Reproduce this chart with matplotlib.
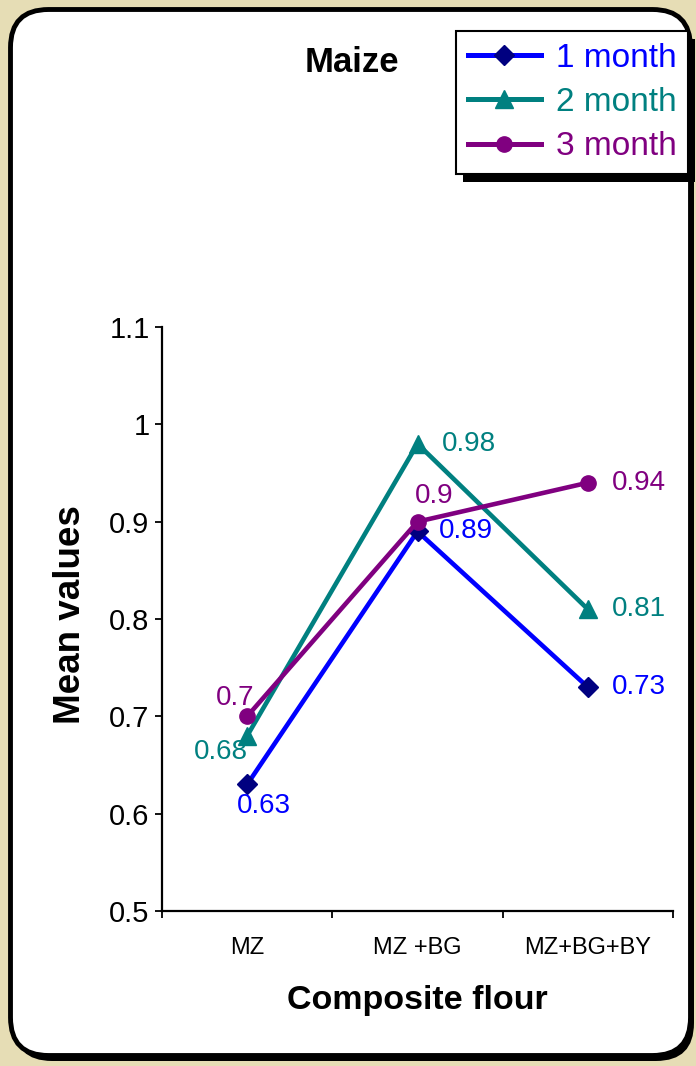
import numpy as np
import matplotlib
matplotlib.use("Agg")
import matplotlib.pyplot as plt
from matplotlib.patches import FancyBboxPatch, Rectangle
from matplotlib.transforms import IdentityTransform

plt.rcParams['font.family'] = ['Liberation Sans', 'DejaVu Sans']

# mean values per composite flour and storage time
flours = ['MZ', 'MZ +BG', 'MZ+BG+BY']
month1 = [0.63, 0.89, 0.73]
month2 = [0.68, 0.98, 0.81]
month3 = [0.70, 0.90, 0.94]
series_names = ['1 month', '2 month', '3 month']

W, H = 696, 1066
fig = plt.figure(figsize=(W / 100, H / 100), dpi=100)
fig.patch.set_facecolor('#e6ddb5')

# rounded white card with a dark drop shadow
card_shadow = FancyBboxPatch((14, 5), 680, 1046, boxstyle='round,pad=0,rounding_size=38',
                             transform=IdentityTransform(), facecolor='black', edgecolor='none',
                             zorder=-2)
card = FancyBboxPatch((10.5, 10.5), 680, 1046, boxstyle='round,pad=0,rounding_size=38',
                      transform=IdentityTransform(), facecolor='white', edgecolor='black',
                      linewidth=3.5, zorder=-1)
fig.patches.extend([card_shadow, card])

ax = fig.add_axes([162 / W, 1 - 911 / H, (673 - 162) / W, (911 - 327) / H])
ax.patch.set_visible(False)
x = np.arange(len(flours))

styles = [
    dict(color='#0000ff', marker='D', mfc='#000080', mec='#000080', ms=10),
    dict(color='#008080', marker='^', mfc='#008080', mec='#008080', ms=13),
    dict(color='#800080', marker='o', mfc='#800080', mec='#800080', ms=11),
]
lines = []
for vals, st, name in zip([month1, month2, month3], styles, series_names):
    ln, = ax.plot(x, vals, lw=3.3, label=name, clip_on=False, **st)
    lines.append(ln)

# value labels: (dx, dy) offsets in pixels, alignment
offsets = {
    0: [(17, -22, 'center'), (21, 0, 'left'), (24, 0, 'left')],
    1: [(-26, -16, 'center'), (24, 0, 'left'), (24, 0, 'left')],
    2: [(-12, 18, 'center'), (17, 26, 'center'), (24, 0, 'left')],
}
for si, vals in enumerate([month1, month2, month3]):
    col = styles[si]['color']
    for i, v in enumerate(vals):
        dx, dy, ha = offsets[si][i]
        ax.annotate(f'{v:g}', (x[i], v), xytext=(dx, dy), textcoords='offset pixels',
                    ha=ha, va='center', fontsize=20, color=col, annotation_clip=False)

ax.set_xlim(-0.5, 2.5)
ax.set_ylim(0.5, 1.1)
ax.set_yticks(np.arange(0.5, 1.101, 0.1))
ax.set_yticklabels(['0.5', '0.6', '0.7', '0.8', '0.9', '1', '1.1'])
ax.set_xticks([-0.5, 0.5, 1.5, 2.5])
ax.set_xticklabels([])
ax.set_xticks(x, flours, minor=True)
ax.tick_params(axis='x', which='minor', length=0, pad=19, labelsize=17)
ax.tick_params(axis='x', which='major', length=5, width=1.3, direction='out')
ax.tick_params(axis='y', length=5, width=1.3, pad=4, labelsize=21)
for side in ['top', 'right']:
    ax.spines[side].set_visible(False)
for side in ['left', 'bottom']:
    ax.spines[side].set_linewidth(1.6)

fig.text(70 / W, 1 - 615 / H, 'Mean values', rotation=90, ha='center', va='center',
         fontsize=26.5, fontweight='bold')
fig.text(417 / W, 1 - 1000 / H, 'Composite flour', ha='center', va='center',
         fontsize=24.5, fontweight='bold')
fig.text(352 / W, 1 - 62 / H, 'Maize', ha='center', va='center', fontsize=25, fontweight='bold')

leg = fig.legend(handles=lines, loc='upper left', bbox_to_anchor=(456 / W, 1 - 31 / H),
                 fontsize=24, handlelength=2.2, handletextpad=0.45, labelspacing=0.4,
                 borderpad=0.35, borderaxespad=0, fancybox=False, framealpha=1,
                 edgecolor='black')
leg.get_frame().set_linewidth(1.5)
for txt, st in zip(leg.get_texts(), styles):
    txt.set_color(st['color'])
for h in leg.legend_handles:
    h.set_linewidth(3.6)
leg.set_zorder(5)

# solid black shadow behind the legend box
fig.canvas.draw()
bb = leg.get_window_extent()
leg_shadow = Rectangle((bb.x0 + 7, bb.y0 - 8), bb.width, bb.height, transform=IdentityTransform(),
                       facecolor='black', edgecolor='none', zorder=4)
fig.patches.append(leg_shadow)

fig.savefig('out.png', dpi=100)
